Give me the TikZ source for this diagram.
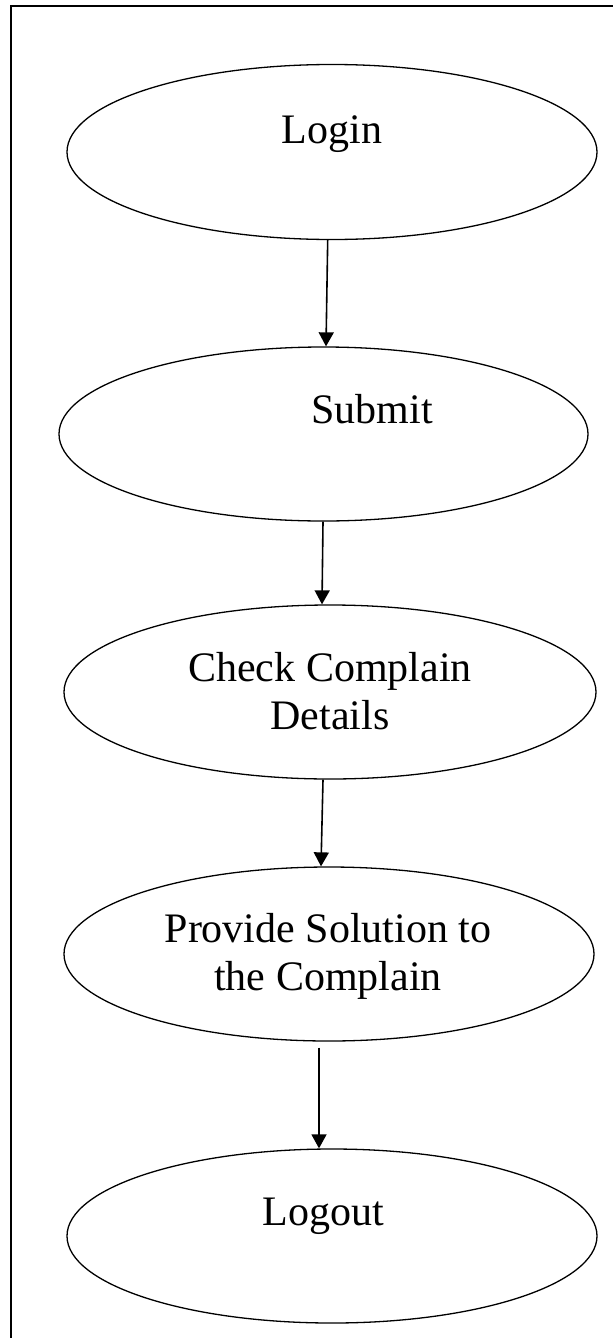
\documentclass[tikz,border=0pt]{standalone}
\usepackage{fontspec}
\setmainfont{Liberation Serif}
\usetikzlibrary{shapes.geometric,arrows.meta}
\begin{document}
\begin{tikzpicture}[x=1pt,y=-1pt,
  stage/.style={draw,ellipse,line width=1.3pt,inner sep=0pt},
  lbl/.style={font=\fontsize{42}{48}\selectfont,inner sep=0pt,anchor=base},
  flow/.style={line width=1.6pt,-{Triangle[length=14pt,width=15pt]}},
  frame/.style={line width=2pt}]
  \useasboundingbox (0,0) rectangle (613,1338);
  % outer frame (top and left edges)
  \draw[frame] (11,1338) -- (11,6) -- (613,6);

  % process stages
  \node[stage,minimum width=530pt,minimum height=175pt] (login)   at (332,152) {};
  \node[stage,minimum width=529pt,minimum height=174pt] (submit)  at (323.5,434) {};
  \node[stage,minimum width=532pt,minimum height=174pt] (check)   at (330,692) {};
  \node[stage,minimum width=530pt,minimum height=174pt] (provide) at (329,954) {};
  \node[stage,minimum width=530pt,minimum height=174pt] (logout)  at (332,1236) {};

  % stage captions
  \node[lbl] (tlogin)    at (332,143)  {Login};
  \node[lbl] (tsubmit)   at (372,423)  {Submit};
  \node[lbl] (tcheckA)   at (330,681)  {Check Complain};
  \node[lbl] (tcheckB)   at (330,729)  {Details};
  \node[lbl] (tprovideA) at (328,942)  {Provide Solution to};
  \node[lbl] (tprovideB) at (328,990)  {the Complain};
  \node[lbl] (tlogout)   at (323,1225) {Logout};

  % flow arrows
  \draw[flow] ([xshift=-4.3pt]login.south) -- ([xshift=2.5pt]submit.north);
  \draw[flow] ([xshift=-0.5pt]submit.south) -- ([xshift=-8pt]check.north);
  \draw[flow] ([xshift=-7pt]check.south) -- ([xshift=-8pt]provide.north);
  \draw[flow] ([xshift=-10pt,yshift=-6pt]provide.south) -- ([xshift=-13pt]logout.north);
\end{tikzpicture}
\end{document}
